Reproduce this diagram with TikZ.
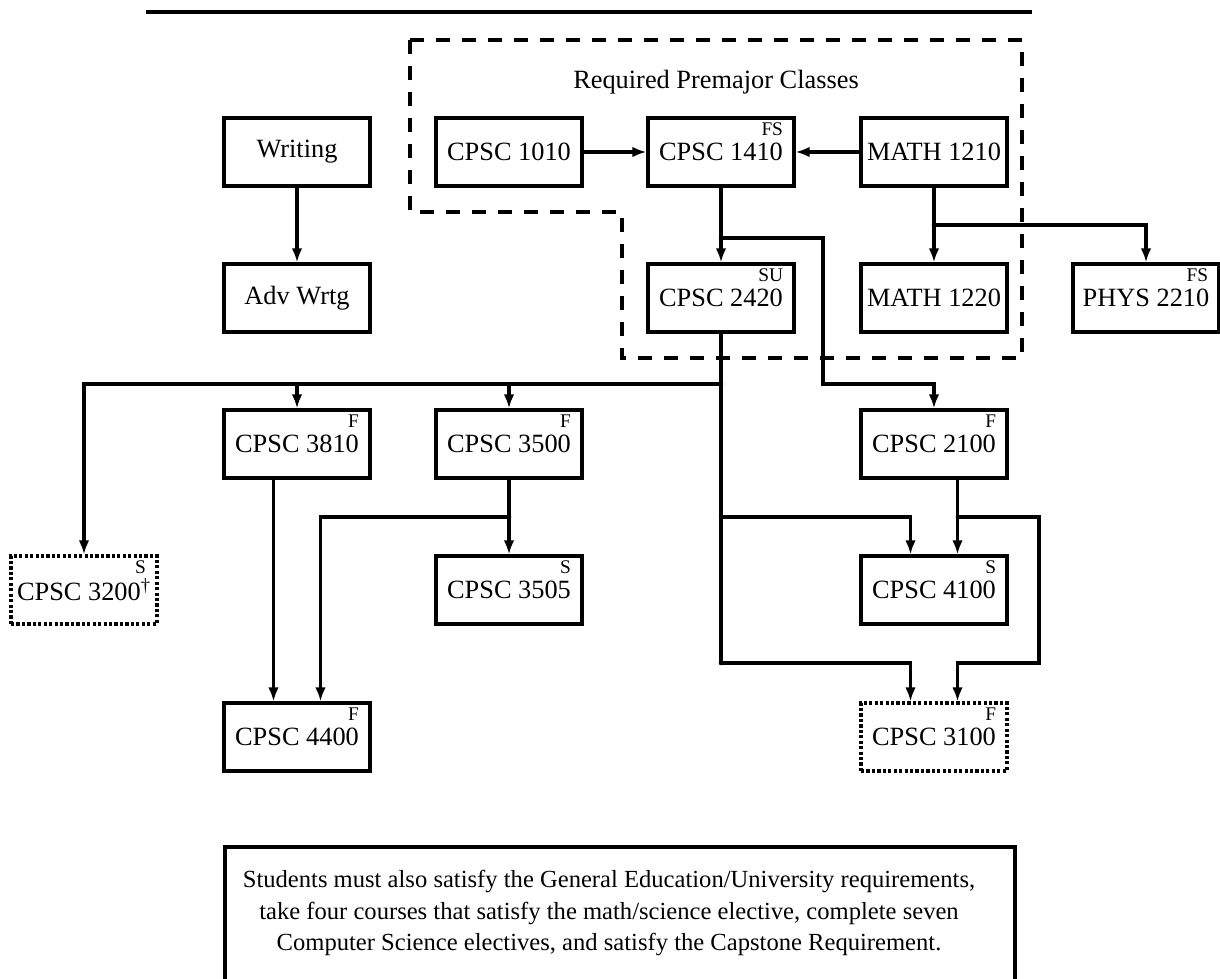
\documentclass[tikz,border=0pt]{standalone}
\usepackage{fontspec}
\setmainfont{Liberation Serif}
\usetikzlibrary{arrows.meta}

\tikzset{
  course/.style={draw, line width=1.8pt, minimum width=2.92cm, minimum height=1.36cm,
    inner sep=0pt, font=\fontsize{15}{18}\selectfont},
  maybe/.style={course, dash pattern=on 1.8pt off 1.3pt},
  sem/.style={label={[anchor=north east, inner sep=0pt, xshift=-0.22cm, yshift=-0.1cm,
    font=\fontsize{11}{13}\selectfont]north east:#1}},
  arr/.style={-{Latex[length=0.28cm,width=0.21cm]}},
}

\begin{document}
\begin{tikzpicture}[x=0.02cm, y=-0.02cm, line width=1.8pt]
      \useasboundingbox (0,0) rectangle (1220,979);
      \draw (146,12) -- (1032,12);
%
      \draw[dash pattern=on 0.28cm off 0.24cm] (410,40) -- (1022,40) -- (1022,358)
        -- (622,358) -- (622,212) -- (410,212) -- cycle;
      \node[font=\fontsize{15}{18}\selectfont] (premajor) at (716,82) {Required Premajor Classes};
%
      \node[course] (writing) at (297,152) {Writing};
      \node[course] (advwrtg) at (297,298) {Adv Wrtg};
      \node[course] (c1010) at (509,152) {CPSC 1010};
      \node[course, sem=FS] (c1410) at (721,152) {CPSC 1410};
      \node[course] (m1210) at (934,152) {MATH 1210};
      \node[course, sem=SU] (c2420) at (721,298) {CPSC 2420};
      \node[course] (m1220) at (934,298) {MATH 1220};
      \node[course, sem=FS] (p2210) at (1146,298) {PHYS 2210};
      \node[course, sem=F] (c3810) at (297,444) {CPSC 3810};
      \node[course, sem=F] (c3500) at (509,444) {CPSC 3500};
      \node[course, sem=F] (c2100) at (934,444) {CPSC 2100};
      \node[maybe, sem=S] (c3200) at (84,590) {CPSC 3200\textsuperscript{\textdagger}};
      \node[course, sem=S] (c3505) at (509,590) {CPSC 3505};
      \node[course, sem=S] (c4100) at (934,590) {CPSC 4100};
      \node[course, sem=F] (c4400) at (297,737) {CPSC 4400};
      \node[maybe, sem=F] (c3100) at (934,737) {CPSC 3100};
%
      \coordinate (j1) at (721,238);
      \coordinate (j2) at (934,225);
      \coordinate (j3) at (721,384);
      \coordinate (j4) at (721,517);
      \coordinate (j5) at (721,663);
      \coordinate (j6) at (958,517);
      \coordinate (j7) at (509,517);
%
      \draw[arr] (c1010) -- (c1410);
      \draw[arr] (m1210) -- (c1410);
      \draw[arr] (writing) -- (advwrtg);
      \draw[arr] (c1410) -- (c2420);
      \draw[arr] (j1) -| (823,384) -| (c2100);
      \draw[arr] (m1210) -- (m1220);
      \draw[arr] (j2) -| (p2210);
%
      \draw (c2420) -- (j5);
      \draw[arr] (j3) -| (c3200);
      \draw[arr] (j3 -| c3810) -- (c3810);
      \draw[arr] (j3 -| c3500) -- (c3500);
      \draw[arr] (j4) -| ([xshift=-0.47cm]c4100.north);
      \draw[arr] (j5) -| ([xshift=-0.47cm]c3100.north);
%
      \draw[arr] ([xshift=0.47cm]c2100.south) -- ([xshift=0.47cm]c4100.north);
      \draw[arr] (j6) -- (1039,517) -- (1039,663) -| ([xshift=0.47cm]c3100.north);
%
      \draw[arr] (c3500) -- (c3505);
      \draw[arr] (j7) -| ([xshift=0.47cm]c4400.north);
      \draw[arr] ([xshift=-0.47cm]c3810.south) -- ([xshift=-0.47cm]c4400.north);
%
      \foreach \j in {j1,j2,j3,j4,j5,j6,j7}
        \fill (\j) circle (1.3pt);
%
      \draw (225,995) -- (225,847) -- (1015,847) -- (1015,995);
      \node[align=center, font=\fontsize{14}{18.1}\selectfont] (note) at (609,913)
        {Students must also satisfy the General Education/University requirements,\\
         take four courses that satisfy the math/science elective, complete seven\\
         Computer Science electives, and satisfy the Capstone Requirement.};
\end{tikzpicture}
\end{document}
